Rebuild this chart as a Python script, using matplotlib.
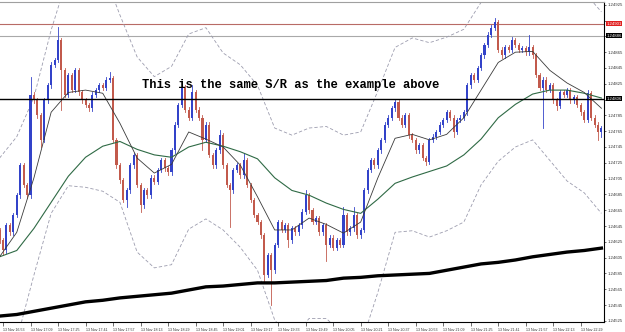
import matplotlib
matplotlib.use("Agg")
import matplotlib.pyplot as plt
from matplotlib.patches import Rectangle
from matplotlib.transforms import blended_transform_factory

# 2-minute candles, time in minutes from 13 Nov 16:53
first_open = 1.24640
close = [
    1.24627, 1.24614, 1.24646, 1.24637, 1.24659, 1.24684, 1.24722, 1.24697, 1.24684, 1.24811,
    1.24804, 1.24785, 1.24754, 1.24804, 1.24823, 1.24849, 1.24855, 1.24880, 1.24842, 1.24811,
    1.24836, 1.24817, 1.24842, 1.24814, 1.24804, 1.24798, 1.24794, 1.24811, 1.24817, 1.24823,
    1.24820, 1.24830, 1.24832, 1.24754, 1.24722, 1.24703, 1.24678, 1.24690, 1.24722, 1.24735,
    1.24697, 1.24671, 1.24690, 1.24684, 1.24706, 1.24701, 1.24716, 1.24728, 1.24718, 1.24713,
    1.24741, 1.24773, 1.24798, 1.24820, 1.24792, 1.24782, 1.24814, 1.24792, 1.24782, 1.24754,
    1.24773, 1.24735, 1.24722, 1.24741, 1.24760, 1.24722, 1.24697, 1.24690, 1.24716, 1.24722,
    1.24709, 1.24728, 1.24697, 1.24678, 1.24659, 1.24650, 1.24633, 1.24583, 1.24608, 1.24589,
    1.24621, 1.24650, 1.24640, 1.24646, 1.24627, 1.24642, 1.24637, 1.24646, 1.24663, 1.24684,
    1.24665, 1.24650, 1.24655, 1.24637, 1.24646, 1.24621, 1.24630, 1.24617, 1.24627, 1.24621,
    1.24659, 1.24637, 1.24642, 1.24659, 1.24633, 1.24640, 1.24690, 1.24716, 1.24728, 1.24722,
    1.24741, 1.24754, 1.24773, 1.24782, 1.24794, 1.24802, 1.24782, 1.24773, 1.24785, 1.24760,
    1.24754, 1.24741, 1.24747, 1.24731, 1.24726, 1.24754, 1.24758, 1.24764, 1.24773, 1.24779,
    1.24789, 1.24782, 1.24764, 1.24779, 1.24782, 1.24789, 1.24823, 1.24836, 1.24830, 1.24845,
    1.24861, 1.24874, 1.24887, 1.24896, 1.24903, 1.24868, 1.24861, 1.24871, 1.24868, 1.24880,
    1.24874, 1.24868, 1.24870, 1.24865, 1.24871, 1.24861, 1.24836, 1.24820, 1.24830, 1.24817,
    1.24823, 1.24804, 1.24797, 1.24814, 1.24811, 1.24817, 1.24804, 1.24808, 1.24798, 1.24789,
    1.24779, 1.24813, 1.24782, 1.24773, 1.24764, 1.24769,
]
# long wicks (bar index: price)
spike_high = {9: 1.24833, 17: 1.24897, 32: 1.24840, 53: 1.24826, 56: 1.24823, 64: 1.24766,
              71: 1.24737, 89: 1.24690, 100: 1.24669, 103: 1.24669, 115: 1.24804, 130: 1.24792,
              144: 1.24908, 149: 1.24884, 154: 1.24887, 171: 1.24817}
spike_low = {1: 1.24608, 12: 1.24745, 18: 1.24792, 37: 1.24669, 41: 1.24663, 59: 1.24741,
             67: 1.24644, 77: 1.24573, 79: 1.24545, 84: 1.24618, 95: 1.24601, 124: 1.24722,
             132: 1.24758, 158: 1.24769, 162: 1.24792, 174: 1.24754, 175: 1.24758}

# indicators, one value every 5th bar
ma_fast = [1.24606, 1.24637, 1.24706, 1.24789, 1.24814, 1.24817, 1.24813, 1.24775, 1.24731, 1.24712,
           1.24723, 1.24764, 1.24755, 1.24745, 1.24722, 1.24682, 1.24640, 1.24640, 1.24655, 1.24647,
           1.24636, 1.24650, 1.24706, 1.24756, 1.24761, 1.24754, 1.24761, 1.24782, 1.24817, 1.24852,
           1.24865, 1.24866, 1.24842, 1.24826, 1.24814, 1.24794]
ma_mid = [1.24606, 1.24614, 1.24642, 1.24675, 1.24708, 1.24732, 1.24746, 1.24752, 1.24742, 1.24735,
          1.24732, 1.24745, 1.24751, 1.24746, 1.24739, 1.24730, 1.24706, 1.24690, 1.24684, 1.24674,
          1.24666, 1.24661, 1.24679, 1.24699, 1.24707, 1.24714, 1.24721, 1.24735, 1.24755, 1.24782,
          1.24799, 1.24812, 1.24817, 1.24817, 1.24813, 1.24807]
ma_slow = [1.24531, 1.24533, 1.24537, 1.24541, 1.24545, 1.24549, 1.24551, 1.24554, 1.24556, 1.24558,
           1.24560, 1.24564, 1.24568, 1.24569, 1.24571, 1.24573, 1.24573, 1.24574, 1.24575, 1.24576,
           1.24579, 1.24580, 1.24582, 1.24583, 1.24584, 1.24585, 1.24589, 1.24593, 1.24597, 1.24599,
           1.24602, 1.24606, 1.24609, 1.24612, 1.24614, 1.24617]
bb_upper = [1.24731, 1.24758, 1.24808, 1.24893, 1.24963, 1.24994, 1.24969, 1.24912, 1.24859, 1.24834,
            1.24847, 1.24888, 1.24896, 1.24864, 1.24849, 1.24823, 1.24769, 1.24760, 1.24769, 1.24771,
            1.24760, 1.24764, 1.24816, 1.24871, 1.24883, 1.24877, 1.24884, 1.24894, 1.24928, 1.24969,
            1.24988, 1.24988, 1.24975, 1.24963, 1.24941, 1.24916]
bb_lower = [1.24463, 1.24501, 1.24583, 1.24661, 1.24696, 1.24694, 1.24689, 1.24675, 1.24612, 1.24592,
            1.24596, 1.24641, 1.24654, 1.24640, 1.24618, 1.24589, 1.24526, 1.24501, 1.24528, 1.24528,
            1.24507, 1.24494, 1.24561, 1.24637, 1.24639, 1.24631, 1.24639, 1.24650, 1.24697, 1.24727,
            1.24745, 1.24754, 1.24728, 1.24702, 1.24687, 1.24661]

level_red = 1.24901
level_gray = 1.24886
level_black = 1.24806

time_labels = ["13 Nov 16:53", "13 Nov 17:09", "13 Nov 17:25", "13 Nov 17:41", "13 Nov 17:57",
               "13 Nov 18:13", "13 Nov 18:29", "13 Nov 18:45", "13 Nov 19:01", "13 Nov 19:17",
               "13 Nov 19:33", "13 Nov 19:49", "13 Nov 20:05", "13 Nov 20:21", "13 Nov 20:37",
               "13 Nov 20:53", "13 Nov 21:09", "13 Nov 21:25", "13 Nov 21:41", "13 Nov 21:57",
               "13 Nov 22:13", "13 Nov 22:29"]
price_ticks = [1.24525, 1.24545, 1.24565, 1.24585, 1.24605, 1.24625, 1.24645, 1.24665, 1.24685,
               1.24705, 1.24725, 1.24745, 1.24765, 1.24785, 1.24805, 1.24825, 1.24845, 1.24865,
               1.24885, 1.24905, 1.24925]
# these tick labels sit under the level boxes on the price axis
covered_ticks = [1.24805, 1.24885, 1.24905]

bar_t = [-2 + 2 * i for i in range(len(close))]
line_t = bar_t[::5]
time_ticks = [16 * k for k in range(len(time_labels))]

fig = plt.figure(figsize=(6.25, 3.32), dpi=100)
ax = fig.add_axes([0, 10 / 332, 604 / 625, 320 / 332])
ax.set_xlim(-1.744, 349.5)
ax.set_ylim(1.245235, 1.249285)

bull = "#3343c9"
bear = "#c25a4c"
wick = 0.00003
prev = first_open
for i, c in enumerate(close):
    o = prev
    hi = spike_high.get(i, max(o, c) + wick)
    lo = spike_low.get(i, min(o, c) - wick)
    col = bull if c >= o else bear
    ax.plot([bar_t[i], bar_t[i]], [lo, hi], color=col, lw=0.6, zorder=3)
    body = max(abs(c - o), 0.000015)
    ax.add_patch(Rectangle((bar_t[i] - 0.6, min(o, c)), 1.2, body,
                           facecolor=col, edgecolor="none", zorder=3))
    prev = c

ax.plot(line_t, bb_upper, color="#9c9cae", lw=0.6, ls=(0, (4, 2.5)), zorder=2)
ax.plot(line_t, bb_lower, color="#9c9cae", lw=0.6, ls=(0, (4, 2.5)), zorder=2)
ax.plot(line_t, ma_mid, color="#2f6a45", lw=0.8, zorder=4)
ax.plot(line_t, ma_fast, color="#3a3a3a", lw=0.6, zorder=4)
ax.plot(line_t, ma_slow, color="black", lw=2.4, zorder=4)

ax.axhline(level_red, color="#b86b66", lw=0.8, zorder=1)
ax.axhline(level_gray, color="#a9a9a9", lw=0.8, zorder=1)
ax.axhline(level_black, color="black", lw=1.0, zorder=5)

ax.text(0.481, 0.741, "This is the same S/R as the example above", transform=ax.transAxes,
        ha="center", va="center", family="Liberation Mono", fontweight="bold",
        fontsize=8.7, color="black", zorder=6)

# price axis on the right
ax.yaxis.tick_right()
ax.set_yticks(price_ticks)
ax.set_yticklabels(["" if p in covered_ticks else f"{p:.5f}" for p in price_ticks],
                   family="Liberation Sans")
ax.tick_params(axis="y", length=1.5, width=0.5, labelsize=3.1, pad=0.8, colors="#333333")
ax.set_xticks(time_ticks)
ax.set_xticklabels(time_labels, family="Liberation Sans")
ax.tick_params(axis="x", length=3, width=0.5, labelsize=2.6, pad=1, colors="#333333")
for lab in ax.get_xticklabels():
    lab.set_ha("left")

trans = blended_transform_factory(ax.transAxes, ax.transData)
for lvl, bg in [(level_red, "#e02020"), (level_gray, "black"), (level_black, "black")]:
    ax.text(1.004, lvl, f"{lvl:.5f}", transform=trans, ha="left", va="center",
            fontsize=3.1, family="Liberation Sans", color="white", zorder=7, clip_on=False,
            bbox=dict(facecolor=bg, edgecolor="none", pad=0.5))

ax.spines["left"].set_visible(False)
ax.spines["top"].set_color("#a0a0a0")
ax.spines["right"].set_linewidth(0.8)
ax.spines["bottom"].set_linewidth(0.8)

fig.savefig("out.png", dpi=100, facecolor="white")
